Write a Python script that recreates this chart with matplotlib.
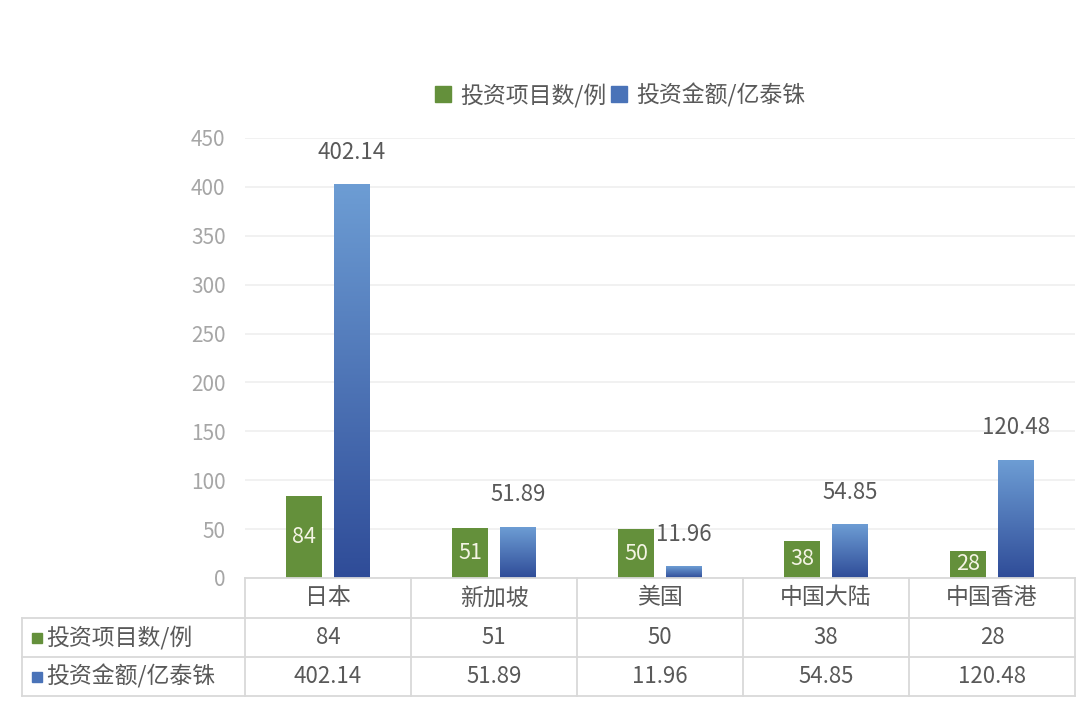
import numpy as np
import matplotlib
matplotlib.use("Agg")
import matplotlib.pyplot as plt
from matplotlib.colors import LinearSegmentedColormap
from matplotlib.patches import Rectangle
from matplotlib.lines import Line2D

plt.rcParams['font.family'] = ['Noto Sans CJK SC', 'DejaVu Sans']

categories = ['日本', '新加坡', '美国', '中国大陆', '中国香港']
projects = [84, 51, 50, 38, 28]
amounts = [402.14, 51.89, 11.96, 54.85, 120.48]
amount_labels = ['402.14', '51.89', '11.96', '54.85', '120.48']
series_names = ['投资项目数/例', '投资金额/亿泰铢']

green = '#64903b'
blue_top = '#6d9dd4'
blue_bot = '#2f4c98'
text_col = '#595959'
tick_col = '#a6a6a6'
line_col = '#d9d9d9'

W, H = 1080, 702
fig = plt.figure(figsize=(W / 100, H / 100), dpi=100)

# plot area in pixels
px_l, px_r, px_t, px_b = 245, 1075, 138, 578
ax = fig.add_axes([px_l / W, 1 - px_b / H, (px_r - px_l) / W, (px_b - px_t) / H])

x = np.arange(len(categories))
bw = 0.215
off = 0.145

ax.bar(x - off, projects, bw, color=green, zorder=3)

cmap = LinearSegmentedColormap.from_list('b', [blue_bot, blue_top])
grad = np.linspace(0, 1, 256).reshape(-1, 1)
for xi, v in zip(x, amounts):
    ax.imshow(grad, cmap=cmap, origin='lower', aspect='auto',
              extent=(xi + off - bw / 2, xi + off + bw / 2, 0, v), zorder=3)

for xi, v in zip(x, projects):
    ax.text(xi - off, v / 2, str(v), ha='center', va='center',
            fontsize=15.5, color='#f4f4e4', zorder=4)
for xi, v, lab in zip(x, amounts, amount_labels):
    ax.text(xi + off, v + 33, lab, ha='center', va='center',
            fontsize=16, color=text_col, zorder=4)

ax.set_xlim(-0.5, len(categories) - 0.5)
ax.set_ylim(0, 450)
ax.set_yticks(np.arange(0, 451, 50))
ax.set_xticks([])
ax.tick_params(axis='y', length=0, labelsize=15, labelcolor=tick_col, pad=14)
ax.grid(axis='y', color='#efefef', linewidth=1.2, zorder=0)
for s in ax.spines.values():
    s.set_visible(False)

# legend
handles = [Rectangle((0, 0), 1, 1, color=green),
           Rectangle((0, 0), 1, 1, color='#4a73b8')]
fig.legend(handles, series_names, loc='center', bbox_to_anchor=(620 / W, 1 - 95 / H),
           ncol=2, frameon=False, fontsize=16.5, handlelength=0.7, handleheight=0.7,
           handletextpad=0.4, columnspacing=0.2, labelcolor=text_col)

# data table below the axes (drawn in pixel coords)
def fx(p):
    return p / W

def fy(p):
    return 1 - p / H

col_edges = np.linspace(px_l, px_r, len(categories) + 1)
rows = [578, 618, 657, 696]
tbl_left = 22

def hline(y, x0, x1):
    fig.add_artist(Line2D([fx(x0), fx(x1)], [fy(y), fy(y)], color=line_col, lw=1.3))

def vline(xp, y0, y1):
    fig.add_artist(Line2D([fx(xp), fx(xp)], [fy(y0), fy(y1)], color=line_col, lw=1.3))

hline(rows[0], px_l, px_r)
for r in rows[1:]:
    hline(r, tbl_left, px_r)
for c in col_edges:
    vline(c, rows[0], rows[-1])
vline(tbl_left, rows[1], rows[-1])

for i, cat in enumerate(categories):
    cx = (col_edges[i] + col_edges[i + 1]) / 2
    fig.text(fx(cx), fy((rows[0] + rows[1]) / 2), cat, ha='center', va='center',
             fontsize=16.5, color=text_col)
    fig.text(fx(cx), fy((rows[1] + rows[2]) / 2), str(projects[i]), ha='center',
             va='center', fontsize=16, color=text_col)
    fig.text(fx(cx), fy((rows[2] + rows[3]) / 2), amount_labels[i], ha='center',
             va='center', fontsize=16, color=text_col)

for j, (name, col) in enumerate([(series_names[0], green), (series_names[1], '#4a73b8')]):
    yc = (rows[j + 1] + rows[j + 2]) / 2
    fig.add_artist(Rectangle((fx(32), fy(yc + 5)), 10 / W, 10 / H, color=col))
    fig.text(fx(46), fy(yc), name, ha='left', va='center', fontsize=16.5, color=text_col)

fig.savefig('out.png', dpi=100)
